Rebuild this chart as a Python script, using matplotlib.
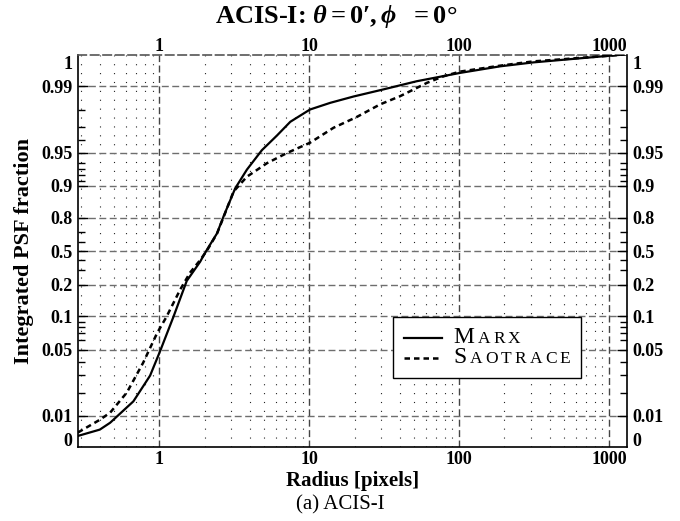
import matplotlib

matplotlib.use("Agg")

import matplotlib.pyplot as plt
import numpy as np
from matplotlib.lines import Line2D
from matplotlib.offsetbox import AnchoredOffsetbox, DrawingArea, HPacker, TextArea, VPacker
from matplotlib.ticker import FixedFormatter, FixedLocator, LogLocator, NullFormatter
from matplotlib.transforms import ScaledTranslation

# encircled PSF fraction
MARX_RADIUS = [0.286, 0.40, 0.469, 0.67, 0.866, 1.01, 1.24, 1.52, 1.87, 1.92, 2.1, 2.42, 2.67,
               3.20, 3.83, 4.82, 6.07, 7.46, 10.1, 13.8, 19.7, 31.2, 52, 101, 187, 312,
               673, 1190, 1330]
MARX_FRACTION = [0.0014, 0.0026, 0.0051, 0.0154, 0.0296, 0.0486, 0.099, 0.222, 0.383, 0.417,
                 0.53, 0.687, 0.803, 0.894, 0.929, 0.952, 0.9637, 0.9734, 0.980, 0.9836,
                 0.9864, 0.9890, 0.99384, 0.99727, 0.99857, 0.99903, 0.99937, 0.99954, 0.99957]

SAO_RADIUS = [0.286, 0.40, 0.469, 0.606, 0.778, 0.965, 1.11, 1.375, 1.60, 1.87, 2.1, 2.42, 2.67,
              3.12, 3.83, 5.21, 7.10, 10.1, 14.5, 20.7, 29.6, 40.2, 60.9, 78.5, 101, 187,
              312, 673, 1190, 1330]
SAO_FRACTION = [0.00196, 0.0068, 0.011, 0.020, 0.0393, 0.070, 0.098, 0.180, 0.28, 0.40,
                0.52, 0.685, 0.80, 0.886, 0.917, 0.939, 0.9496, 0.958, 0.9695, 0.9762,
                0.9828, 0.9865, 0.9928, 0.9962, 0.9976, 0.99866, 0.99912, 0.99939, 0.99954,
                0.99957]

X_TICKS = [1, 10, 100, 1000]
X_TICK_LABELS = ["1", "10", "100", "1000"]
Y_TICKS = [0.001, 0.01, 0.05, 0.1, 0.2, 0.5, 0.8, 0.9, 0.95, 0.99, 0.999]
Y_TICK_LABELS = ["0", "0.01", "0.05", "0.1", "0.2", "0.5", "0.8", "0.9", "0.95", "0.99", "1"]
Y_MINOR = [0.02, 0.03, 0.04, 0.06, 0.07, 0.08, 0.09, 0.3, 0.4, 0.6, 0.7,
           0.91, 0.92, 0.93, 0.94, 0.96, 0.97, 0.98]

# stretched probability axis of the original: height above 0.5 for the upper half
SCALE_P = np.array([0.5, 0.6, 0.7, 0.8, 0.9, 0.91, 0.92, 0.93, 0.94, 0.95, 0.96, 0.97,
                    0.98, 0.99, 0.999, 1 - 1e-6])
SCALE_H = np.array([0, 9, 19, 33.5, 65.2, 70.5, 76, 82, 88.5, 98.5, 111, 124,
                    141.5, 164.8, 188.3, 258.5])


def _logit(p):
    p = np.clip(np.asarray(p, dtype=float), 1e-9, 1 - 1e-9)
    return np.log(p / (1 - p))


KNOT_U = np.concatenate([-_logit(SCALE_P[:0:-1]), _logit(SCALE_P)])
KNOT_H = np.concatenate([-SCALE_H[:0:-1], SCALE_H])


def forward(p):
    return np.interp(_logit(p), KNOT_U, KNOT_H)


def inverse(h):
    u = np.interp(h, KNOT_H, KNOT_U)
    return 1.0 / (1.0 + np.exp(-u))


plt.rcParams["font.family"] = ["Liberation Serif", "DejaVu Serif"]
plt.rcParams["font.weight"] = "bold"
plt.rcParams["mathtext.fontset"] = "custom"
plt.rcParams["mathtext.rm"] = "Liberation Serif:bold"
plt.rcParams["mathtext.bf"] = "Liberation Serif:bold"
plt.rcParams["mathtext.it"] = "Liberation Serif:italic"

SOLID = dict(color="black", lw=1.6, ls="-")
DASHED = dict(color="black", lw=1.8, ls=(0, (2.2, 1.6)))

fig = plt.figure(figsize=(6.8, 5.21), dpi=100)
ax = fig.add_axes([0.1143, 0.1420, 0.8082, 0.7524])

ax.plot(MARX_RADIUS, MARX_FRACTION, **SOLID, zorder=4)
ax.plot(SAO_RADIUS, SAO_FRACTION, **DASHED, zorder=4)

ax.set_xscale("log")
ax.set_yscale("function", functions=(forward, inverse))
ax.set_xlim(0.285, 1320)
ax.set_ylim(0.00047, 0.99953)

ax.xaxis.set_major_locator(FixedLocator(X_TICKS))
ax.xaxis.set_major_formatter(FixedFormatter(X_TICK_LABELS))
ax.xaxis.set_minor_locator(LogLocator(base=10, subs=np.arange(2, 10)))
ax.xaxis.set_minor_formatter(NullFormatter())
ax.yaxis.set_major_locator(FixedLocator(Y_TICKS))
ax.yaxis.set_major_formatter(FixedFormatter(Y_TICK_LABELS))
ax.yaxis.set_minor_locator(FixedLocator(Y_MINOR))
ax.yaxis.set_minor_formatter(NullFormatter())

ax.grid(True, which="major", axis="y", ls=(0, (5, 2.5)), color="#6e6e6e", lw=1)
ax.grid(True, which="major", axis="x", ls=(0, (5, 2.5)), color="#444444", lw=1)
ax.grid(True, which="minor", axis="x", ls=(0, (1, 7)), color="#222222", lw=0.8)

ax.tick_params(axis="y", which="both", direction="in", left=True, right=True,
               labelleft=True, labelright=True, labelsize=13, pad=4, width=1)
ax.tick_params(axis="y", which="major", length=7)
ax.tick_params(axis="y", which="minor", length=5)
ax.tick_params(axis="x", which="both", direction="in", top=True, bottom=True,
               labeltop=True, labelbottom=True, labelsize=13, length=0, pad=3)

# top labels sit a little closer to the frame than the bottom ones
nudge = ScaledTranslation(0, -3 / 72, fig.dpi_scale_trans)
for t in ax.xaxis.get_major_ticks():
    t.label2.set_transform(t.label2.get_transform() + nudge)

# "0" and "1" are labels only
ticks = ax.yaxis.get_major_ticks()
for t in (ticks[0], ticks[-1]):
    t.tick1line.set_visible(False)
    t.tick2line.set_visible(False)
    t.gridline.set_visible(False)

for side in ("left", "right", "bottom"):
    ax.spines[side].set_linewidth(1.2)
ax.spines["top"].set_linestyle((0, (5, 2.5)))
ax.spines["top"].set_color("#555555")
ax.spines["top"].set_linewidth(1.2)

ax.text(-0.098, 0.5, "Integrated PSF fraction", transform=ax.transAxes, rotation=90,
        ha="center", va="center", fontsize=16)
ax.text(0.5, -0.087, "Radius [pixels]", transform=ax.transAxes,
        ha="center", va="center", fontsize=15)
fig.text(0.495, 1 - 16 / 521, "ACIS-I: $\\theta = 0\u2032, \\phi\\ \\ = 0\u00b0$",
         ha="center", va="center", fontsize=19)
fig.text(0.5, 1 - 505 / 521, "(a) ACIS-I", ha="center", va="center",
         fontsize=15, fontweight="normal")


def legend_row(style, name):
    handle = DrawingArea(28, 8, 0, 0)
    handle.add_artist(Line2D([0, 28], [4, 4], **style))
    letters = [TextArea(name[0], textprops=dict(fontsize=17, fontweight="normal"))]
    letters += [TextArea(ch, textprops=dict(fontsize=12.5, fontweight="normal")) for ch in name[1:]]
    word = HPacker(children=letters, align="baseline", pad=0, sep=2.2)
    return HPacker(children=[handle, word], align="center", pad=0, sep=8)


rows = VPacker(children=[legend_row(SOLID, "MARX"), legend_row(DASHED, "SAOTRACE")],
               align="left", pad=0, sep=-1)
legend = AnchoredOffsetbox(loc="upper left", child=rows, pad=0.75, borderpad=0,
                           frameon=True, prop=dict(size=10),
                           bbox_to_anchor=(0.574, 0.3316), bbox_transform=ax.transAxes)
legend.patch.set_boxstyle("square", pad=0)
legend.patch.set_edgecolor("black")
legend.patch.set_linewidth(1)
legend.zorder = 6
ax.add_artist(legend)

fig.savefig("out.png", dpi=100)
